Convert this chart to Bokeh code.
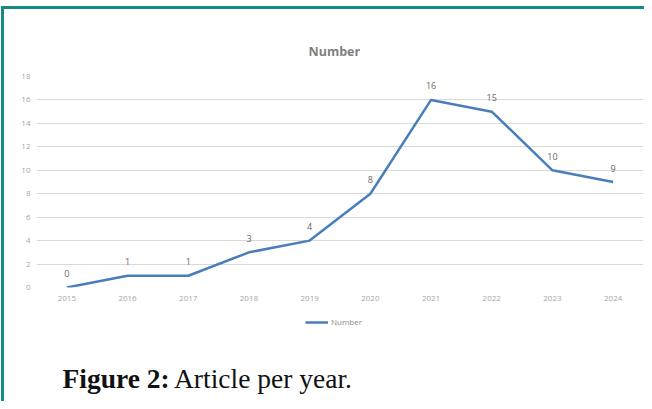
from bokeh.plotting import figure
from bokeh.layouts import column
from bokeh.models import FixedTicker, Legend, LegendItem, ColumnDataSource, Title, Range1d
from bokeh.core.properties import value
from bokeh.embed import file_html
from bokeh.resources import INLINE

# ---- data ----
years = ["2015", "2016", "2017", "2018", "2019", "2020", "2021", "2022", "2023", "2024"]
counts = [0, 1, 1, 3, 4, 8, 16, 15, 10, 9]
y_ticks = [0, 2, 4, 6, 8, 10, 12, 14, 16, 18]
chart_title = "Number"
series_name = "Number"
caption_bold = "Figure 2:"
caption_text = "Article per year."

TEAL = "#178a88"
BLUE = "#4a7ebb"
X0, Y0 = 4, 9            # content origin inside the teal frame
W = 640                  # content width  (x 4..644)
MAIN_BOTTOM = 310        # main chart strip ends here
H_END = 401
FL, FR, FT, FB = 36, 643, 76, 287   # plot frame in page pixels

# ---------- main chart ----------
p = figure(width=W, height=MAIN_BOTTOM - Y0, x_range=years, y_range=(0, 18),
           output_backend="svg", toolbar_location=None,
           min_border_left=FL - X0, min_border_right=X0 + W - FR,
           min_border_top=FT - Y0, min_border_bottom=MAIN_BOTTOM - FB)
p.title.visible = False
p.outline_line_color = None
p.background_fill_color = "white"
p.border_fill_color = "white"

p.yaxis.ticker = FixedTicker(ticks=y_ticks)
for ax in (p.xaxis[0], p.yaxis[0]):
    ax.axis_line_color = None
    ax.major_tick_line_color = None
    ax.minor_tick_line_color = None
    ax.major_tick_out = 0
    ax.major_tick_in = 0
    ax.minor_tick_out = 0
    ax.minor_tick_in = 0
    ax.major_label_text_font = "Open Sans"
    ax.major_label_text_font_size = "8px"
    ax.major_label_text_color = "#a6a6a6"
p.yaxis.major_label_standoff = 6
p.xaxis.major_label_standoff = 8

p.xgrid.visible = False
p.ygrid.grid_line_color = "#d9d9d9"
p.ygrid.grid_line_width = 1

src = ColumnDataSource(dict(year=years, count=counts, label=[str(c) for c in counts]))
r = p.line(x="year", y="count", source=src, line_color=BLUE, line_width=2.5)
p.text(x="year", y="count", text="label", source=src, text_align="center",
       text_baseline="middle", y_offset=-14, text_font_size="9px",
       text_color="#666666", text_font=value("Open Sans"))

p.add_layout(Title(text=chart_title, align="left", offset=308 - FL, standoff=33,
                   vertical_align="bottom", text_font="Open Sans",
                   text_font_style="bold", text_font_size="12.5px",
                   text_color="#7f7f7f"), "above")

# ---------- legend + caption strip (its frame is aligned with the chart frame) ----------
cap = figure(width=W, height=H_END - MAIN_BOTTOM, x_range=Range1d(FL, FR),
             y_range=Range1d(H_END, MAIN_BOTTOM), x_axis_type=None, y_axis_type=None,
             output_backend="svg", toolbar_location=None, min_border=0)
cap.title.visible = False
cap.grid.visible = False
cap.outline_line_color = None
cap.background_fill_color = "white"
cap.border_fill_color = "white"

# legend key: same series, not drawn here, only its legend sample is shown
key = cap.line(x="year", y="count", source=src, line_color=BLUE, line_width=2.5,
               visible=False)
cap.add_layout(Legend(items=[LegendItem(label=series_name, renderers=[key])],
                      location=(305 - FL, H_END - 327), orientation="horizontal",
                      glyph_width=23, glyph_height=10, label_height=10,
                      label_standoff=3, padding=0, spacing=0, margin=0,
                      border_line_color=None, background_fill_alpha=0,
                      inactive_fill_alpha=0,
                      label_text_font_size="8px", label_text_font="Open Sans",
                      label_text_color="#8c8c8c"))

cap.text(x=[62], y=[378], text=[caption_bold], text_align="left",
         text_baseline="middle", text_font=value("Liberation Serif"),
         text_font_style="bold", text_font_size="27.5px", text_color="#111111")
cap.text(x=[173.5], y=[378], text=[caption_text], text_align="left",
         text_baseline="middle", text_font=value("Liberation Serif"),
         text_font_style="normal", text_font_size="27.5px", text_color="#111111")

layout = column(p, cap, spacing=0,
                styles={"margin-left": "1px", "margin-top": "6px",
                        "border-left": "3px solid " + TEAL,
                        "border-top": "3px solid " + TEAL})
open("out.html", "w").write(file_html(layout, INLINE))
